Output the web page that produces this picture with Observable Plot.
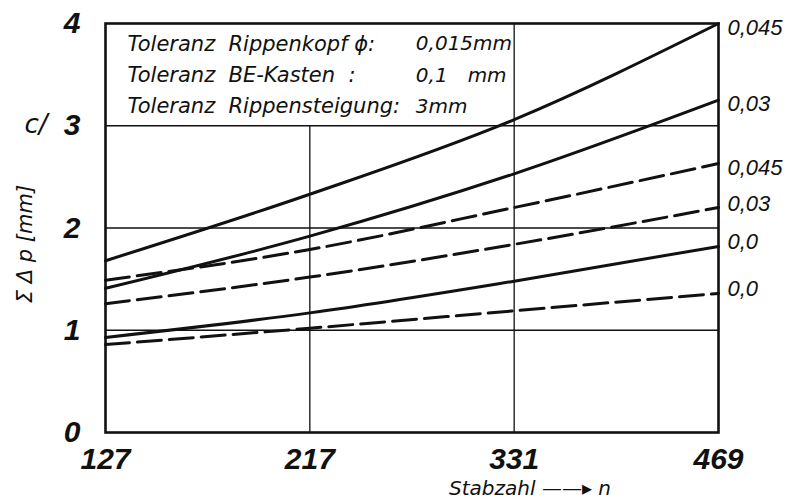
<!DOCTYPE html>
<html>
<head>
<meta charset="utf-8">
<script src="https://cdn.jsdelivr.net/npm/d3@7"></script>
<script src="https://cdn.jsdelivr.net/npm/@observablehq/plot@0.6"></script>
<style>
  html, body { margin: 0; padding: 0; background: #fff; }
  #chart svg { display: block; }
</style>
</head>
<body>
<div id="chart"></div>
<script>
// ---- data ----
const xLabels = ["127", "217", "331", "469"];           // Stabzahl n
const seriesNames = ["0,045", "0,03", "0,045", "0,03", "0,0", "0,0"];
const seriesDashed = [false, false, true, true, false, true];
const s1 = [1.68, 2.33, 3.06, 4.00];   // solid 0,045
const s2 = [1.41, 1.92, 2.53, 3.25];   // solid 0,03
const d1 = [1.49, 1.79, 2.20, 2.63];   // dashed 0,045
const d2 = [1.26, 1.52, 1.84, 2.20];   // dashed 0,03
const s3 = [0.93, 1.17, 1.48, 1.82];   // solid 0,0
const d3v = [0.86, 1.02, 1.19, 1.36];  // dashed 0,0
const yTicks = [0, 1, 2, 3, 4];
const gridY = [1, 2, 3];
const boxLabels = ["Toleranz  Rippenkopf \u03D5:", "Toleranz  BE-Kasten  :", "Toleranz  Rippensteigung:"];
const boxValues = ["0,015mm", "0,1\u2002\u2002mm", "3mm"];

// ---- build table ----
const allSeries = [s1, s2, d1, d2, s3, d3v];
const rows = [];
allSeries.forEach((vals, k) => {
  vals.forEach((v, i) => rows.push({k, i, v, dashed: seriesDashed[k], name: seriesNames[k]}));
});
const ends = allSeries.map((vals, k) => ({k, i: vals.length - 1, v: vals[vals.length - 1], name: seriesNames[k]}));
const boxRows = boxLabels.map((label, r) => ({r, label, value: boxValues[r], y: 3.8 - r * 0.305}));

const font = "'DejaVu Sans', 'Liberation Sans', sans-serif";
const sansFont = "'Liberation Sans', sans-serif";

const chart = Plot.plot({
  width: 797,
  height: 503,
  marginLeft: 105,
  marginRight: 79,
  marginTop: 23,
  marginBottom: 71,
  style: {background: "#fff", color: "#111", fontFamily: font},
  x: {domain: [0, xLabels.length - 1], axis: null},
  y: {domain: [0, 4], axis: null},
  marks: [
    // gridlines
    Plot.ruleY(gridY, {stroke: "#111", strokeWidth: 1.3}),
    Plot.ruleX([1], {y1: 0, y2: 3, stroke: "#111", strokeWidth: 1.3}),
    Plot.ruleX([2], {y1: 0, y2: 4, stroke: "#111", strokeWidth: 1.3}),
    Plot.frame({stroke: "#111", strokeWidth: 2.6}),
    // curves
    Plot.line(rows.filter(d => !d.dashed), {x: "i", y: "v", z: "k", curve: "monotone-x", stroke: "#111", strokeWidth: 3}),
    Plot.line(rows.filter(d => d.dashed), {x: "i", y: "v", z: "k", curve: "monotone-x", stroke: "#111", strokeWidth: 3, strokeDasharray: "24,8"}),
    // end labels
    Plot.text(ends.filter(d => d.k < 3), {x: "i", y: "v", text: "name", textAnchor: "start", dx: 9, dy: 4, fontSize: 22, fontStyle: "italic", fill: "#111", fontFamily: sansFont}),
    Plot.text(ends.filter(d => d.k >= 3), {x: "i", y: "v", text: "name", textAnchor: "start", dx: 9, dy: -4, fontSize: 22, fontStyle: "italic", fill: "#111", fontFamily: sansFont}),
    // axes
    Plot.axisX({ticks: [0, 1, 2, 3], tickFormat: i => xLabels[i], tickSize: 0, tickPadding: 15, fontSize: 30, fontStyle: "italic", fontWeight: "bold", fill: "#111", label: null, fontFamily: sansFont}),
    Plot.axisY({ticks: yTicks, tickFormat: d => String(d), tickSize: 0, tickPadding: 25, fontSize: 30, fontStyle: "italic", fontWeight: "bold", fill: "#111", label: null, fontFamily: sansFont}),
    // box text
    Plot.text(boxRows, {x: 0, y: "y", text: "label", dx: 22, textAnchor: "start", fontSize: 21, fontStyle: "italic", fill: "#111"}),
    Plot.text(boxRows, {x: 1, y: "y", text: "value", dx: 106, textAnchor: "start", fontSize: 20, fontStyle: "italic", fill: "#111"})
  ]
});
document.getElementById("chart").appendChild(chart);

// axis titles as extra text inside svg (real text)
const NS = "http://www.w3.org/2000/svg";
function addText(attrs, style, content) {
  const t = document.createElementNS(NS, "text");
  for (const [k, v] of Object.entries(attrs)) t.setAttribute(k, v);
  t.setAttribute("style", style);
  t.textContent = content;
  chart.appendChild(t);
}
addText({x: 36, y: 133, "text-anchor": "middle", fill: "#111"}, "font: italic 26px 'DejaVu Sans', sans-serif;", "c/");
addText({transform: "translate(32,244) rotate(-90)", "text-anchor": "middle", fill: "#111"}, "font: italic 21px 'DejaVu Sans', sans-serif;", "\u03A3 \u0394 p [mm]");
addText({x: 530, y: 495, "text-anchor": "middle", fill: "#111"}, "font: italic 20px 'DejaVu Sans', sans-serif;", "Stabzahl \u2014\u2014\u25B8 n");
</script>
</body>
</html>
